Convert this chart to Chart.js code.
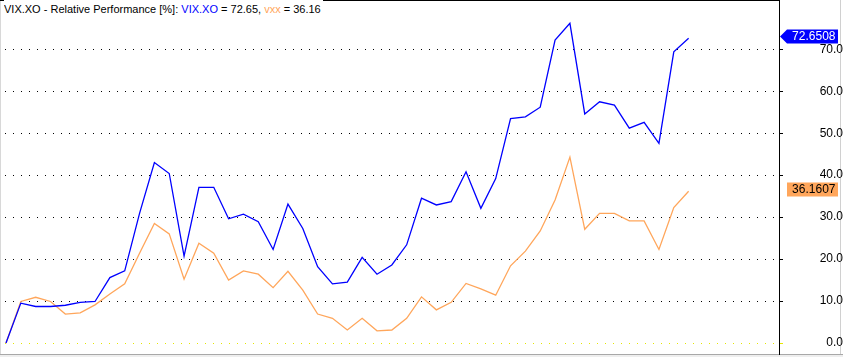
<!DOCTYPE html>
<html lang="en">
<head>
    <meta charset="UTF-8">
    <title>VIX.XO - Relative Performance</title>
    <script src="https://cdn.jsdelivr.net/npm/chart.js"></script>
    <style>
        html, body { margin: 0; padding: 0; background: #fff; }
        .wrapper { position: relative; width: 843px; height: 357px; overflow: hidden; }
        .wrapper canvas { position: absolute; left: 0; top: 0; z-index: 2; }
        .edge-left { position: absolute; left: 0; top: 0; width: 1px; height: 357px; background: #d8d8d8; }
        .edge-right { position: absolute; left: 840px; top: 0; width: 1px; height: 357px; background: #d0d0d0; }
        .edge-top { position: absolute; left: 0; top: 0; width: 780px; height: 1px; background: #000; }
        .strip { position: absolute; left: 0; top: 354px; width: 843px; height: 2px; background: #eeeeee; border-top: 1px solid #a8a8a8; }
        .title {
            position: absolute; left: 4px; top: 0; z-index: 3;
            padding: 3px 2px 1px 0; background: #fff;
            font: 11px "Liberation Sans", Arial, sans-serif; color: #000; white-space: nowrap;
        }
        .title .s0 { color: #0000ff; }
        .title .s1 { color: #ffa65b; }
    </style>
</head>
<body>
    <div class="wrapper">
        <div class="edge-left"></div>
        <div class="edge-right"></div>
        <div class="edge-top"></div>
        <div class="strip"></div>
        <div class="title" id="title"></div>
        <canvas id="perfChart" width="843" height="357"></canvas>
    </div>

    <script>
        const seriesNames = ['VIX.XO', 'vxx'];
        const seriesColors = ['#0000ff', '#ffa65b'];
        const vixValues = [0, 9.5, 8.7, 8.7, 9.0, 9.7, 9.9, 15.6, 17.2, 30.9, 43.0, 40.4, 20.7, 37.1, 37.1, 29.6,
            30.7, 28.9, 22.3, 33.1, 27.3, 18.2, 14.1, 14.5, 20.4, 16.4, 18.6, 23.4, 34.5, 32.9, 33.7, 40.8,
            32.1, 39.2, 53.5, 53.9, 56.2, 72.2, 76.2, 54.6, 57.5, 56.7, 51.2, 52.6, 47.6, 69.4, 72.6508];
        const vxxValues = [0, 9.9, 10.9, 9.9, 6.9, 7.2, 9.1, 11.7, 14.1, 21.4, 28.5, 26.0, 15.2, 23.8, 21.4, 15.0,
            17.2, 16.4, 13.2, 17.1, 12.6, 6.9, 5.9, 3.1, 5.9, 2.9, 3.1, 5.9, 11.0, 7.9, 9.7, 14.2,
            12.9, 11.4, 18.4, 21.9, 26.7, 34.1, 44.3, 27.1, 30.9, 30.9, 29.1, 29.1, 22.3, 32.3, 36.1607];
        const yTicks = [0, 10, 20, 30, 40, 50, 60, 70];

        const allSeries = [vixValues, vxxValues];

        // title line with the last values
        const title = document.getElementById('title');
        let html = 'VIX.XO - Relative Performance [%]: ';
        allSeries.forEach((vals, i) => {
            html += '<span class="s' + i + '">' + seriesNames[i] + '</span> = ' + vals[vals.length - 1].toFixed(2);
            if (i < allSeries.length - 1) html += ', ';
        });
        title.innerHTML = html;

        // value tags on the right axis
        const lastValueTags = {
            id: 'lastValueTags',
            afterDraw(chart) {
                const ctx = chart.ctx;
                const yScale = chart.scales.y;
                const axisX = chart.chartArea.right;
                ctx.save();
                ctx.font = '12px "Liberation Sans", Arial, sans-serif';
                ctx.textBaseline = 'middle';
                ctx.textAlign = 'right';
                chart.data.datasets.forEach((ds, i) => {
                    const v = ds.data[ds.data.length - 1].y;
                    const py = Math.round(yScale.getPixelForValue(v)) - 1.5;
                    ctx.fillStyle = seriesColors[i];
                    ctx.beginPath();
                    if (i === 0) {
                        ctx.moveTo(axisX + 1, py);
                        ctx.lineTo(axisX + 8, py - 7);
                    } else {
                        ctx.moveTo(axisX + 8, py - 7);
                    }
                    ctx.lineTo(838, py - 7);
                    ctx.lineTo(838, py + 7);
                    ctx.lineTo(axisX + 8, py + 7);
                    ctx.closePath();
                    ctx.fill();
                    ctx.fillStyle = i === 0 ? '#fff' : '#000';
                    ctx.fillText(v.toFixed(4), 835.5, py + 0.5);
                });
                ctx.restore();
            }
        };

        const ctx = document.getElementById('perfChart').getContext('2d');
        const perfChart = new Chart(ctx, {
            type: 'line',
            data: {
                datasets: allSeries.map((vals, i) => ({
                    label: seriesNames[i],
                    data: vals.map((v, idx) => ({ x: idx, y: v })),
                    borderColor: seriesColors[i],
                    borderWidth: 1.3,
                    pointRadius: 0,
                    tension: 0,
                    fill: false
                }))
            },
            options: {
                responsive: false,
                animation: false,
                layout: { padding: { left: 0, right: 0, top: 0, bottom: 3 } },
                scales: {
                    x: {
                        type: 'linear',
                        display: false,
                        min: -0.404,
                        max: 52.09
                    },
                    y: {
                        position: 'right',
                        min: -2.62,
                        max: 81.75,
                        afterBuildTicks: (scale) => {
                            scale.ticks = yTicks.map(v => ({ value: v }));
                        },
                        afterFit: (scale) => {
                            scale.width = 64;
                            scale.paddingTop = 0;
                            scale.paddingBottom = 0;
                        },
                        grid: {
                            color: (c) => c.tick && c.tick.value === 0 ? '#e6e600' : '#000',
                            lineWidth: 1,
                            tickLength: 4,
                            tickBorderDash: []
                        },
                        border: {
                            display: true,
                            color: '#000',
                            width: 1,
                            dash: [1, 7],
                            dashOffset: 3
                        },
                        ticks: {
                            crossAlign: 'far',
                            padding: 25,
                            color: '#000',
                            font: { family: '"Liberation Sans", Arial, sans-serif', size: 12 },
                            callback: (v) => Number(v).toFixed(1)
                        }
                    }
                },
                plugins: {
                    legend: { display: false },
                    title: { display: false },
                    tooltip: { enabled: false }
                }
            },
            plugins: [lastValueTags]
        });
    </script>
</body>
</html>
